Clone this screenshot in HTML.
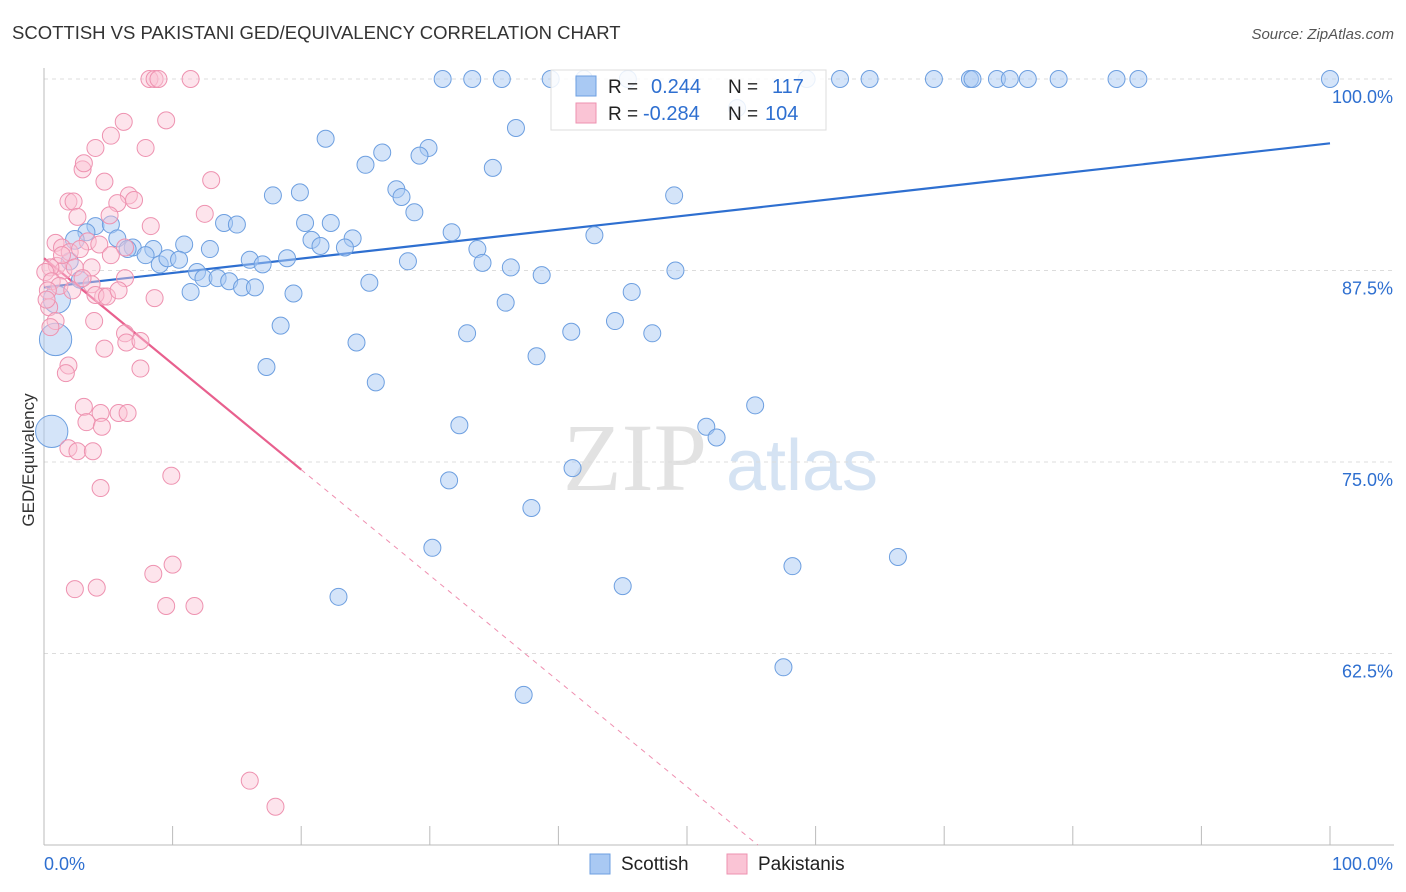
<!DOCTYPE html>
<html><head><meta charset="utf-8">
<style>
body{margin:0;background:#fff;font-family:"Liberation Sans",sans-serif;}
svg{display:block}
</style></head>
<body>
<svg id="chart" width="1406" height="892" xmlns="http://www.w3.org/2000/svg">
<text x="12" y="39" font-size="18.5" fill="#333">SCOTTISH VS PAKISTANI GED/EQUIVALENCY CORRELATION CHART</text>
<text x="1394" y="39" font-size="15" fill="#555" font-style="italic" text-anchor="end">Source: ZipAtlas.com</text>
<text x="34" y="460" font-size="17" fill="#333" text-anchor="middle" transform="rotate(-90 34 460)">GED/Equivalency</text>
<g><text x="635" y="490" font-size="96" fill="#e2e2e2" font-family="Liberation Serif,serif" text-anchor="middle">ZIP</text><text x="802" y="490" font-size="72" fill="#d5e3f3" text-anchor="middle">atlas</text></g>
<g id="grid"></g><g id="axes"></g><g id="trend"></g><g id="pts"></g>
<g>
<rect x="551" y="70" width="275" height="60" fill="#fff" fill-opacity="0.85" stroke="#ddd"/>
<rect x="576" y="76" width="20" height="20" fill="#a9c9f3" stroke="#6d9fe0"/>
<rect x="576" y="103" width="20" height="20" fill="#fac4d5" stroke="#ee92b0"/>
<text x="608" y="93" font-size="19" fill="#222">R = </text><text x="651" y="93" font-size="20" fill="#2e6fd0">0.244</text>
<text x="728" y="93" font-size="19" fill="#222">N = </text><text x="772" y="93" font-size="20" fill="#2e6fd0">117</text>
<text x="608" y="120" font-size="19" fill="#222">R = </text><text x="643" y="120" font-size="20" fill="#2e6fd0">-0.284</text>
<text x="728" y="120" font-size="19" fill="#222">N = </text><text x="765" y="120" font-size="20" fill="#2e6fd0">104</text>
</g>
<g>
<rect x="590" y="854" width="20" height="20" fill="#a9c9f3" stroke="#6d9fe0"/>
<text x="621" y="870" font-size="19" fill="#222">Scottish</text>
<rect x="727" y="854" width="20" height="20" fill="#fac4d5" stroke="#ee92b0"/>
<text x="758" y="870" font-size="19" fill="#222">Pakistanis</text>
</g>
</svg>
<script>
const yTicks=[100,87.5,75,62.5];
const yTickLabels=["100.0%","87.5%","75.0%","62.5%"];
const xEndLabels=["0.0%","100.0%"];
const blueX=[31.0,33.3,35.6,39.4,42.0,45.4,59.3,61.9,64.2,69.2,72.0,72.2,74.1,75.1,76.5,78.9,83.4,85.1,100,53.9,36.7,21.9,29.9,26.3,29.2,25.0,34.9,27.4,27.8,17.8,19.9,49.0,28.8,14.0,15.0,20.3,22.3,4.0,5.2,3.3,31.7,24.0,42.8,20.8,21.5,23.4,10.9,12.9,33.7,5.7,6.9,8.5,6.5,7.9,9.0,9.6,10.5,16.0,17.0,18.9,28.3,34.1,36.3,38.7,49.1,11.9,12.4,13.5,14.4,15.4,16.4,25.3,11.4,19.4,45.7,35.9,18.4,44.4,41.0,47.3,32.9,24.3,38.3,17.3,25.8,55.3,32.3,51.5,52.3,41.1,31.5,37.9,30.2,58.2,66.4,45.0,22.9,57.5,37.3,0.9,0.6,1.0,2.4,2.0,2.8];
const blueY=[100,100,100,100,100,100,100,100,100,100,100,100,100,100,100,100,100,100,100,98.1,96.8,96.1,95.5,95.2,95.0,94.4,94.2,92.8,92.3,92.4,92.6,92.4,91.3,90.6,90.5,90.6,90.6,90.4,90.5,90.0,90.0,89.6,89.8,89.5,89.1,89.0,89.2,88.9,88.9,89.6,89.0,88.9,88.9,88.5,87.9,88.3,88.2,88.2,87.9,88.3,88.1,88.0,87.7,87.2,87.5,87.4,87.0,87.0,86.8,86.4,86.4,86.7,86.1,86.0,86.1,85.4,83.9,84.2,83.5,83.4,83.4,82.8,81.9,81.2,80.2,78.7,77.4,77.3,76.6,74.6,73.8,72.0,69.4,68.2,68.8,66.9,66.2,61.6,59.8,83.0,77.0,85.6,89.5,88.1,86.9];
const blueSize=[1,1,1,1,1,1,1,1,1,1,1,1,1,1,1,1,1,1,1,1,1,1,1,1,1,1,1,1,1,1,1,1,1,1,1,1,1,1,1,1,1,1,1,1,1,1,1,1,1,1,1,1,1,1,1,1,1,1,1,1,1,1,1,1,1,1,1,1,1,1,1,1,1,1,1,1,1,1,1,1,1,1,1,1,1,1,1,1,1,1,1,1,1,1,1,1,1,1,1,1.9,1.9,1.6,1.1,1,1];
const pinkX=[8.2,8.6,8.9,11.4,6.2,9.5,5.2,7.9,4.0,3.0,3.1,13.0,4.7,1.9,2.3,6.6,7.0,5.7,2.6,12.5,5.1,8.3,0.9,1.4,3.4,2.0,4.3,6.3,2.8,5.2,1.0,1.5,2.4,3.7,0.5,0.1,0.6,1.2,2.2,3.7,4.6,4.0,4.9,8.6,6.3,5.8,3.9,0.4,0.9,0.5,6.3,6.4,7.5,4.7,1.9,1.7,7.5,3.1,4.4,5.8,6.5,3.3,4.5,1.9,2.6,3.8,9.9,4.4,8.5,10.0,2.4,4.1,9.5,11.7,16.0,18.0,0.3,0.2,1.4,3.0];
const pinkY=[100,100,100,100,97.2,97.3,96.3,95.5,95.5,94.1,94.5,93.4,93.3,92.0,92.0,92.4,92.1,91.9,91.0,91.2,91.1,90.4,89.3,89.0,89.4,88.7,89.2,89.0,88.9,88.5,87.8,87.5,87.7,87.7,87.7,87.4,86.8,86.5,86.2,86.6,85.8,85.9,85.8,85.7,87.0,86.2,84.2,85.1,84.2,83.8,83.4,82.8,82.9,82.4,81.3,80.8,81.1,78.6,78.2,78.2,78.2,77.6,77.3,75.9,75.7,75.7,74.1,73.3,67.7,68.3,66.7,66.8,65.6,65.6,54.2,52.5,86.2,85.6,88.5,87.0];
const blueTrend=[86.4,95.8];
const pinkTrend=[88.3,-0.69];
const NS="http://www.w3.org/2000/svg";
const X0=44,X1=1330,Y100=79,Y50=845;
const xs=v=>X0+(X1-X0)*v/100;
const ys=v=>Y100+(100-v)*(Y50-Y100)/50;
function mk(parent,tag,attrs){const e=document.createElementNS(NS,tag);for(const k in attrs)e.setAttribute(k,attrs[k]);document.getElementById(parent).appendChild(e);return e;}
yTicks.forEach((t,i)=>{
  const g=mk('grid','line',{x1:X0,x2:1394,y1:ys(t),y2:ys(t),stroke:'#dcdcdc','stroke-dasharray':'4,4'});
  
  
  const l=mk('axes','text',{x:1393,y:ys(t)+24,'font-size':18,fill:'#2e6fd0','text-anchor':'end'});
  l.textContent=yTickLabels[i];
  
  
});
const ax=mk('axes','line',{x1:X0,x2:1394,y1:Y50,y2:Y50,stroke:'#bbb'});


const ay=mk('axes','line',{x1:X0,x2:X0,y1:68,y2:Y50,stroke:'#bbb'});


for(let i=0;i<=10;i++){
  const t=mk('axes','line',{x1:xs(i*10),x2:xs(i*10),y1:826,y2:Y50,stroke:'#bbb'});
  
  
}
const xl0=mk('axes','text',{x:X0,y:870,'font-size':18,fill:'#2e6fd0'});xl0.textContent=xEndLabels[0];


const xl1=mk('axes','text',{x:1393,y:870,'font-size':18,fill:'#2e6fd0','text-anchor':'end'});xl1.textContent=xEndLabels[1];


blueX.forEach((x,i)=>{
  const c=mk('pts','circle',{cx:xs(x),cy:ys(blueY[i]),r:8.5*blueSize[i],fill:'#a9c9f3','fill-opacity':0.5,stroke:'#6d9fe0','stroke-width':1});
  
  
});
pinkX.forEach((x,i)=>{
  const c=mk('pts','circle',{cx:xs(x),cy:ys(pinkY[i]),r:8.5,fill:'#fac4d5','fill-opacity':0.45,stroke:'#ee92b0','stroke-width':1});
  
  
});
const bt=mk('trend','line',{x1:xs(0),y1:ys(blueTrend[0]),x2:xs(100),y2:ys(blueTrend[1]),stroke:'#2e6fd0','stroke-width':2.2});


const pEnd=(pinkTrend[0]-50)/(-pinkTrend[1]);
const pt=mk('trend','line',{x1:xs(0),y1:ys(pinkTrend[0]),x2:xs(20),y2:ys(pinkTrend[0]+pinkTrend[1]*20),stroke:'#e8608e','stroke-width':2.2});


const pd=mk('trend','line',{x1:xs(20),y1:ys(pinkTrend[0]+pinkTrend[1]*20),x2:xs(pEnd),y2:ys(50),stroke:'#e8608e','stroke-width':1,'stroke-dasharray':'5,5','stroke-opacity':0.7});


</script>
</body></html>
